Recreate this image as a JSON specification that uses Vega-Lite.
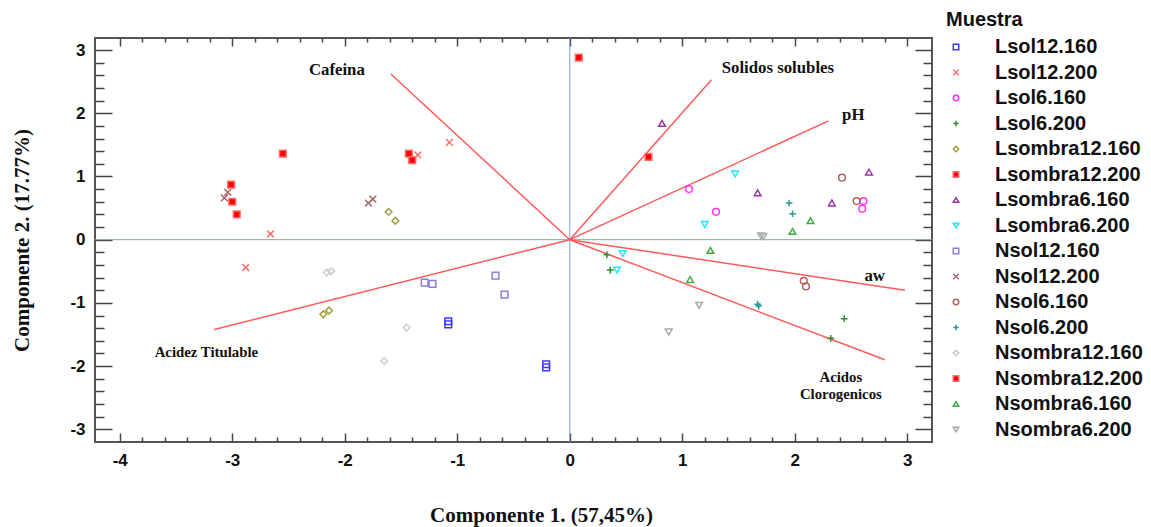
{
  "$schema": "https://vega.github.io/schema/vega-lite/v6.json",
  "width": 837,
  "height": 404,
  "autosize": {"type": "none"},
  "padding": {"left": 95, "top": 38, "right": 219, "bottom": 85},
  "background": "white",
  "config": {
    "view": {"stroke": "#555555", "strokeWidth": 2},
    "axis": {
      "domain": false, "grid": false, "tickColor": "#444444", "tickWidth": 1.5,
      "labelFont": "Liberation Sans", "labelFontWeight": "bold", "labelFontSize": 17, "labelColor": "#111111",
      "titleFont": "Liberation Serif", "titleFontWeight": "bold", "titleFontSize": 21, "titleColor": "#111111"
    }
  },
  "datasets": {
    "pts": [
      {"Muestra": "Lsol12.160", "x": -1.08, "y": -1.29}, {"Muestra": "Lsol12.160", "x": -1.08, "y": -1.34},
      {"Muestra": "Lsol12.160", "x": -0.21, "y": -1.97}, {"Muestra": "Lsol12.160", "x": -0.21, "y": -2.02},
      {"Muestra": "Lsol12.200", "x": -1.07, "y": 1.54}, {"Muestra": "Lsol12.200", "x": -1.35, "y": 1.34},
      {"Muestra": "Lsol12.200", "x": -2.66, "y": 0.09}, {"Muestra": "Lsol12.200", "x": -2.88, "y": -0.44},
      {"Muestra": "Lsol6.160", "x": 1.06, "y": 0.80}, {"Muestra": "Lsol6.160", "x": 1.30, "y": 0.44},
      {"Muestra": "Lsol6.160", "x": 2.61, "y": 0.61}, {"Muestra": "Lsol6.160", "x": 2.60, "y": 0.49},
      {"Muestra": "Lsol6.200", "x": 0.33, "y": -0.24}, {"Muestra": "Lsol6.200", "x": 0.36, "y": -0.48},
      {"Muestra": "Lsol6.200", "x": 2.44, "y": -1.25}, {"Muestra": "Lsol6.200", "x": 2.32, "y": -1.56},
      {"Muestra": "Lsombra12.160", "x": -1.61, "y": 0.44}, {"Muestra": "Lsombra12.160", "x": -1.55, "y": 0.30},
      {"Muestra": "Lsombra12.160", "x": -2.19, "y": -1.18}, {"Muestra": "Lsombra12.160", "x": -2.14, "y": -1.12},
      {"Muestra": "Lsombra12.200", "x": -2.55, "y": 1.36}, {"Muestra": "Lsombra12.200", "x": -3.01, "y": 0.87},
      {"Muestra": "Lsombra12.200", "x": -3.00, "y": 0.60}, {"Muestra": "Lsombra12.200", "x": -2.96, "y": 0.40},
      {"Muestra": "Lsombra6.160", "x": 0.82, "y": 1.84}, {"Muestra": "Lsombra6.160", "x": 1.67, "y": 0.74},
      {"Muestra": "Lsombra6.160", "x": 2.33, "y": 0.58}, {"Muestra": "Lsombra6.160", "x": 2.66, "y": 1.07},
      {"Muestra": "Lsombra6.200", "x": 1.47, "y": 1.04}, {"Muestra": "Lsombra6.200", "x": 1.20, "y": 0.24},
      {"Muestra": "Lsombra6.200", "x": 0.47, "y": -0.22}, {"Muestra": "Lsombra6.200", "x": 0.42, "y": -0.48},
      {"Muestra": "Nsol12.160", "x": -1.29, "y": -0.68}, {"Muestra": "Nsol12.160", "x": -1.22, "y": -0.70},
      {"Muestra": "Nsol12.160", "x": -0.66, "y": -0.57}, {"Muestra": "Nsol12.160", "x": -0.58, "y": -0.87},
      {"Muestra": "Nsol12.200", "x": -3.07, "y": 0.66}, {"Muestra": "Nsol12.200", "x": -3.04, "y": 0.75},
      {"Muestra": "Nsol12.200", "x": -1.79, "y": 0.58}, {"Muestra": "Nsol12.200", "x": -1.75, "y": 0.64},
      {"Muestra": "Nsol6.160", "x": 2.42, "y": 0.98}, {"Muestra": "Nsol6.160", "x": 2.55, "y": 0.61},
      {"Muestra": "Nsol6.160", "x": 2.08, "y": -0.65}, {"Muestra": "Nsol6.160", "x": 2.10, "y": -0.74},
      {"Muestra": "Nsol6.200", "x": 1.95, "y": 0.58}, {"Muestra": "Nsol6.200", "x": 1.98, "y": 0.41},
      {"Muestra": "Nsol6.200", "x": 1.67, "y": -1.02}, {"Muestra": "Nsol6.200", "x": 1.68, "y": -1.05},
      {"Muestra": "Nsombra12.160", "x": -2.16, "y": -0.52}, {"Muestra": "Nsombra12.160", "x": -2.12, "y": -0.50},
      {"Muestra": "Nsombra12.160", "x": -1.45, "y": -1.39}, {"Muestra": "Nsombra12.160", "x": -1.65, "y": -1.92},
      {"Muestra": "Nsombra12.200", "x": -1.43, "y": 1.36}, {"Muestra": "Nsombra12.200", "x": -1.40, "y": 1.26},
      {"Muestra": "Nsombra12.200", "x": 0.08, "y": 2.88}, {"Muestra": "Nsombra12.200", "x": 0.70, "y": 1.31},
      {"Muestra": "Nsombra6.160", "x": 2.14, "y": 0.30}, {"Muestra": "Nsombra6.160", "x": 1.98, "y": 0.13},
      {"Muestra": "Nsombra6.160", "x": 1.25, "y": -0.17}, {"Muestra": "Nsombra6.160", "x": 1.07, "y": -0.63},
      {"Muestra": "Nsombra6.200", "x": 1.70, "y": 0.06}, {"Muestra": "Nsombra6.200", "x": 1.72, "y": 0.05},
      {"Muestra": "Nsombra6.200", "x": 1.15, "y": -1.04}, {"Muestra": "Nsombra6.200", "x": 0.88, "y": -1.46}
    ],
    "vec": [
      {"var": "Cafeina", "x": -1.59, "y": 2.62},
      {"var": "Solidos solubles", "x": 1.26, "y": 2.53},
      {"var": "pH", "x": 2.30, "y": 1.88},
      {"var": "aw", "x": 2.98, "y": -0.80},
      {"var": "Acidos Clorogenicos", "x": 2.80, "y": -1.90},
      {"var": "Acidez Titulable", "x": -3.16, "y": -1.42}
    ],
    "labBig": [
      {"text": "Cafeina", "x": -2.07, "y": 2.68},
      {"text": "Solidos solubles", "x": 1.85, "y": 2.71},
      {"text": "pH", "x": 2.52, "y": 1.97},
      {"text": "aw", "x": 2.71, "y": -0.57}
    ],
    "labSmall": [
      {"text": "Acidos", "x": 2.41, "y": -2.19},
      {"text": "Clorogenicos", "x": 2.41, "y": -2.46},
      {"text": "Acidez Titulable", "x": -3.23, "y": -1.80}
    ]
  },
  "layer": [
    {
      "data": {"values": [{"v": 0}]},
      "mark": {"type": "rule", "color": "#7d9fe3", "strokeWidth": 1},
      "encoding": {
        "x": {"field": "v", "type": "quantitative",
          "scale": {"domain": [-4.22, 3.22], "nice": false, "zero": false},
          "axis": {"orient": "top", "values": [-4, -3, -2, -1, 0, 1, 2, 3], "tickSize": -8, "labels": false, "title": null}}
      }
    },
    {
      "data": {"values": [{"v": 0}]},
      "mark": {"type": "rule", "color": "#7d9fe3", "strokeWidth": 1},
      "encoding": {
        "y": {"field": "v", "type": "quantitative",
          "scale": {"domain": [-3.2, 3.19], "nice": false, "zero": false},
          "axis": {"orient": "right", "values": [-3, -2, -1, 0, 1, 2, 3], "tickSize": -17, "labels": false, "title": null}}
      }
    },
    {
      "data": {"name": "vec"},
      "mark": {"type": "rule", "color": "#ff5a5a", "strokeWidth": 1.5},
      "encoding": {
        "x": {"field": "x", "type": "quantitative",
          "axis": {"orient": "bottom", "values": [-3.8, -3.6, -3.4, -3.2, -2.8, -2.6, -2.4, -2.2, -1.8, -1.6, -1.4, -1.2, -0.8, -0.6, -0.4, -0.2, 0.2, 0.4, 0.6, 0.8, 1.2, 1.4, 1.6, 1.8, 2.2, 2.4, 2.6, 2.8], "tickSize": -5, "labels": false, "title": null}},
        "y": {"field": "y", "type": "quantitative",
          "axis": {"orient": "left", "values": [-2.8, -2.6, -2.4, -2.2, -1.8, -1.6, -1.4, -1.2, -0.8, -0.6, -0.4, -0.2, 0.2, 0.4, 0.6, 0.8, 1.2, 1.4, 1.6, 1.8, 2.2, 2.4, 2.6, 2.8], "tickSize": -9, "labels": false, "title": null}},
        "x2": {"datum": 0},
        "y2": {"datum": 0}
      }
    },
    {
      "data": {"name": "pts"},
      "mark": {"type": "point", "size": 45, "strokeWidth": 1.5, "opacity": 1},
      "encoding": {
        "x": {"field": "x", "type": "quantitative",
          "axis": {"orient": "bottom", "values": [-4, -3, -2, -1, 0, 1, 2, 3], "tickSize": -9, "labelPadding": 19, "labelExpr": "'' + datum.value",
            "title": "Componente 1. (57,45%)", "titleX": 446, "titleY": 73, "titleBaseline": "middle", "titleAlign": "center"}},
        "y": {"field": "y", "type": "quantitative",
          "axis": {"orient": "left", "values": [-3, -2, -1, 0, 1, 2, 3], "tickSize": -17, "labelPadding": 27, "labelExpr": "'' + datum.value",
            "title": "Componente 2. (17.77%)", "titleX": -73, "titleY": 202, "titleBaseline": "middle", "titleAlign": "center", "titleAngle": -90}},
        "shape": {"field": "Muestra", "type": "nominal",
          "scale": {
            "domain": ["Lsol12.160", "Lsol12.200", "Lsol6.160", "Lsol6.200", "Lsombra12.160", "Lsombra12.200", "Lsombra6.160", "Lsombra6.200", "Nsol12.160", "Nsol12.200", "Nsol6.160", "Nsol6.200", "Nsombra12.160", "Nsombra12.200", "Nsombra6.160", "Nsombra6.200"],
            "range": ["square", "M-1,-1L1,1M-1,1L1,-1", "circle", "M-1,0L1,0M0,-1L0,1", "diamond", "square", "triangle-up", "triangle-down", "square", "M-1,-1L1,1M-1,1L1,-1", "circle", "M-1,0L1,0M0,-1L0,1", "diamond", "square", "triangle-up", "triangle-down"]},
          "legend": {"title": "Muestra", "orient": "none", "legendX": 851, "legendY": -28,
            "titleFont": "Liberation Sans", "titleFontSize": 20, "titleFontWeight": "bold", "titleColor": "#111111", "titlePadding": 7,
            "labelFont": "Liberation Sans", "labelFontSize": 20, "labelFontWeight": "bold", "labelColor": "#111111",
            "labelOffset": 29, "symbolSize": 30, "symbolStrokeWidth": 1.5, "rowPadding": 5.5}},
        "stroke": {"field": "Muestra", "type": "nominal",
          "scale": {
            "domain": ["Lsol12.160", "Lsol12.200", "Lsol6.160", "Lsol6.200", "Lsombra12.160", "Lsombra12.200", "Lsombra6.160", "Lsombra6.200", "Nsol12.160", "Nsol12.200", "Nsol6.160", "Nsol6.200", "Nsombra12.160", "Nsombra12.200", "Nsombra6.160", "Nsombra6.200"],
            "range": ["#3b3bff", "#ff7070", "#ff33ff", "#2e8b2e", "#a0a040", "#ff6a6a", "#9933aa", "#22e6ff", "#8c7fe0", "#a86a6a", "#b06060", "#2e9a9a", "#cccccc", "#ff6a6a", "#44aa44", "#aaaaaa"]},
          "legend": {"title": "Muestra", "orient": "none", "legendX": 851, "legendY": -28}},
        "fill": {"field": "Muestra", "type": "nominal",
          "scale": {
            "domain": ["Lsol12.160", "Lsol12.200", "Lsol6.160", "Lsol6.200", "Lsombra12.160", "Lsombra12.200", "Lsombra6.160", "Lsombra6.200", "Nsol12.160", "Nsol12.200", "Nsol6.160", "Nsol6.200", "Nsombra12.160", "Nsombra12.200", "Nsombra6.160", "Nsombra6.200"],
            "range": ["transparent", "transparent", "transparent", "transparent", "transparent", "#ff0000", "transparent", "transparent", "transparent", "transparent", "transparent", "transparent", "transparent", "#ff0000", "transparent", "transparent"]},
          "legend": {"title": "Muestra", "orient": "none", "legendX": 851, "legendY": -28}}
      }
    },
    {
      "data": {"name": "labBig"},
      "mark": {"type": "text", "font": "Liberation Serif", "fontWeight": "bold", "fontSize": 16.8, "color": "#111111", "align": "center", "baseline": "middle"},
      "encoding": {
        "x": {"field": "x", "type": "quantitative",
          "axis": {"orient": "top", "values": [-3.8, -3.6, -3.4, -3.2, -2.8, -2.6, -2.4, -2.2, -1.8, -1.6, -1.4, -1.2, -0.8, -0.6, -0.4, -0.2, 0.2, 0.4, 0.6, 0.8, 1.2, 1.4, 1.6, 1.8, 2.2, 2.4, 2.6, 2.8], "tickSize": -4, "labels": false, "title": null}},
        "y": {"field": "y", "type": "quantitative",
          "axis": {"orient": "right", "values": [-2.8, -2.6, -2.4, -2.2, -1.8, -1.6, -1.4, -1.2, -0.8, -0.6, -0.4, -0.2, 0.2, 0.4, 0.6, 0.8, 1.2, 1.4, 1.6, 1.8, 2.2, 2.4, 2.6, 2.8], "tickSize": -9, "labels": false, "title": null}},
        "text": {"field": "text", "type": "nominal"}
      }
    },
    {
      "data": {"name": "labSmall"},
      "mark": {"type": "text", "font": "Liberation Serif", "fontWeight": "bold", "fontSize": 14.8, "color": "#111111", "align": "center", "baseline": "middle"},
      "encoding": {
        "x": {"field": "x", "type": "quantitative", "axis": null},
        "y": {"field": "y", "type": "quantitative", "axis": null},
        "text": {"field": "text", "type": "nominal"}
      }
    }
  ],
  "resolve": {"axis": {"x": "independent", "y": "independent"}}
}
